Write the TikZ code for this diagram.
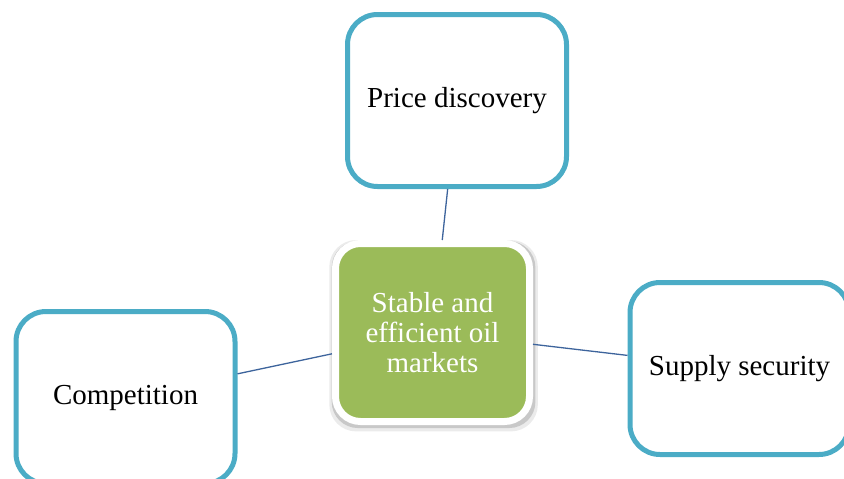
\documentclass[tikz,border=0pt]{standalone}
\usepackage{fontspec}
\setmainfont{Liberation Serif}
\usetikzlibrary{shadows}
\definecolor{aqua}{HTML}{4BACC6}
\definecolor{verde}{HTML}{9BBB59}
\definecolor{enlace}{HTML}{3D649C}

\begin{document}
\begin{tikzpicture}[x=1pt, y=-1pt,
  caja/.style={draw=aqua, line width=5pt, fill=white, rounded corners=30pt,
    minimum width=219pt, minimum height=172pt, align=center,
    font=\fontsize{29}{30}\selectfont},
  centro/.style={draw=white, line width=7pt, fill=verde, rounded corners=25pt,
    minimum width=194pt, minimum height=178pt, align=center, text=white,
    font=\fontsize{29}{30}\selectfont,
    general shadow={shadow scale=1.075, shadow xshift=1pt, shadow yshift=-3pt, opacity=0.08, fill=black},
    general shadow={shadow scale=1.05, shadow xshift=1pt, shadow yshift=-2pt, opacity=0.15, fill=black}},
  enl/.style={draw=enlace, line width=1.3pt}]
\useasboundingbox (0,0) rectangle (844,479);
% caja central y las tres de alrededor
\node[centro] (mercado) at (432.5,332.5) {Stable and\\efficient oil\\markets};
\node[caja] (precio) at (457,100.5) {Price discovery};
\node[caja] (compet) at (125.5,397.5) {Competition};
\node[caja] (oferta) at (739.5,368.5) {Supply security};
% enlaces
\draw[enl] (mercado) -- (precio);
\draw[enl] (mercado) -- (compet);
\draw[enl] (mercado) -- (oferta);
\end{tikzpicture}
\end{document}
